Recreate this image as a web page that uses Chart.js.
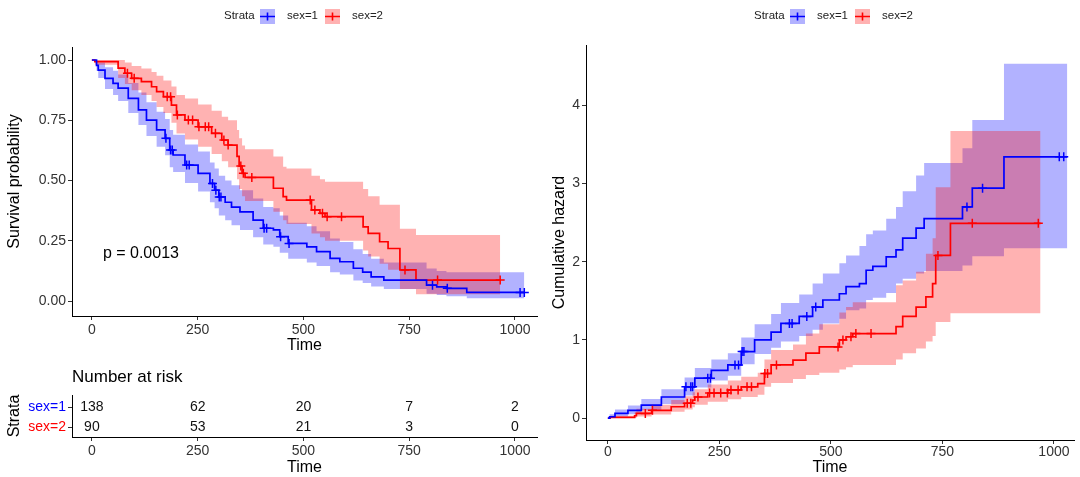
<!DOCTYPE html>
<html>
<head>
<meta charset="utf-8">
<script src="https://cdn.jsdelivr.net/npm/chart.js@4.4.1/dist/chart.umd.min.js"></script>
<style>
  html, body { margin: 0; padding: 0; background: #fff; width: 1080px; height: 477px; overflow: hidden; }
  canvas { position: absolute; }
</style>
</head>
<body>
<canvas id="km" width="545" height="360" style="left:0;top:0"></canvas>
<canvas id="risk" width="545" height="117" style="left:0;top:360px"></canvas>
<canvas id="haz" width="535" height="477" style="left:545px;top:0"></canvas>
<script>
const FONT = "'Liberation Sans', Arial, sans-serif";
const BLUE = '#0000ff', RED = '#ff0000';
const BLUE_FILL = 'rgba(0,0,255,0.3)', RED_FILL = 'rgba(255,0,0,0.3)';

// axis ticks / categories
const timeTicks = [0, 250, 500, 750, 1000];
const survTicks = [0, 0.25, 0.5, 0.75, 1];
const hazTicks = [0, 1, 2, 3, 4];
const strata = ['sex=1', 'sex=2'];

// number at risk
const riskN1 = [138, 62, 20, 7, 2];
const riskN2 = [90, 53, 21, 3, 0];

// survival curve, sex=1
const kmT1 = [0, 11, 15, 31, 50, 62, 86, 110, 129, 153, 173, 184, 192, 220, 251, 279, 290, 300, 315, 330, 350, 381, 405, 429, 444, 464, 508, 531, 563, 586, 618, 640, 660, 690, 791, 815, 838, 886, 1022];
const kmS1 = [1, .978, .958, .924, .903, .883, .841, .793, .751, .710, .675, .627, .606, .564, .53, .488, .46, .432, .41, .39, .37, .336, .302, .295, .267, .239, .225, .205, .177, .163, .136, .12, .10, .087, .066, .059, .053, .036, .036];
const kmU1 = [1, .995, .99, .97, .955, .94, .905, .865, .825, .785, .755, .71, .69, .65, .62, .575, .55, .52, .50, .48, .46, .425, .39, .385, .355, .325, .31, .29, .26, .245, .215, .195, .175, .16, .135, .125, .12, .12, .12];
const kmL1 = [1, .955, .925, .88, .855, .83, .78, .73, .685, .64, .605, .555, .535, .49, .455, .41, .385, .355, .335, .315, .295, .265, .235, .225, .20, .175, .16, .145, .12, .11, .085, .075, .06, .05, .03, .025, .02, .012, .012];
const cenT1 = [175, 186, 190, 224, 230, 285, 293, 301, 305, 407, 413, 446, 466, 805, 840, 1012, 1022];
const cenS1 = [.675, .627, .627, .564, .564, .488, .46, .432, .432, .302, .302, .267, .239, .066, .053, .036, .036];

// survival curve, sex=2
const kmT2 = [0, 7, 62, 78, 94, 117, 141, 153, 169, 188, 200, 220, 251, 283, 307, 322, 343, 348, 355, 362, 429, 452, 460, 519, 539, 551, 641, 653, 680, 700, 728, 766, 965];
const kmS2 = [1, .993, .966, .945, .924, .91, .889, .869, .848, .813, .772, .751, .723, .696, .668, .647, .60, .56, .53, .513, .468, .433, .419, .378, .364, .35, .308, .281, .246, .218, .129, .087, .087];
const kmU2 = [1, 1, 1, .99, .975, .965, .95, .935, .915, .89, .855, .84, .815, .79, .765, .75, .71, .675, .645, .63, .60, .557, .55, .52, .505, .495, .465, .435, .40, .40, .30, .274, .274];
const kmL2 = [1, .98, .925, .90, .875, .855, .83, .805, .78, .74, .695, .67, .64, .61, .58, .555, .505, .465, .435, .415, .37, .335, .32, .28, .265, .25, .21, .185, .155, .13, .05, .028, .028];
const cenT2 = [84, 100, 178, 186, 202, 228, 238, 253, 268, 276, 292, 312, 322, 352, 358, 378, 516, 527, 545, 556, 590, 740, 817, 965];
const cenS2 = [.945, .924, .848, .848, .772, .751, .751, .723, .723, .723, .696, .668, .647, .56, .53, .513, .419, .378, .364, .35, .35, .129, .087, .087];

// cumulative hazard, sex=1
const hzT1 = [0, 4, 16, 45, 75, 120, 172, 195, 232, 269, 299, 329, 366, 388, 429, 459, 482, 519, 534, 564, 579, 594, 624, 646, 661, 691, 709, 795, 817, 888, 1030];
const hzH1 = [0, .017, .06, .10, .166, .27, .40, .51, .61, .68, .85, 1.0, 1.10, 1.21, 1.30, 1.42, 1.51, 1.59, 1.68, 1.72, 1.89, 1.94, 2.06, 2.15, 2.30, 2.43, 2.55, 2.70, 2.94, 3.34, 3.34];
const hzU1 = [0, .05, .11, .16, .245, .37, .52, .64, .75, .83, 1.03, 1.2, 1.33, 1.47, 1.58, 1.72, 1.85, 1.98, 2.08, 2.2, 2.35, 2.4, 2.55, 2.7, 2.9, 3.1, 3.26, 3.45, 3.81, 4.53, 4.53];
const hzL1 = [0, 0, .02, .05, .10, .18, .29, .39, .48, .54, .69, .82, .90, .98, 1.05, 1.13, 1.21, 1.27, 1.38, 1.40, 1.51, 1.54, 1.60, 1.72, 1.78, 1.85, 1.88, 1.95, 2.07, 2.17, 2.17];
const hzCenT1 = [175, 186, 190, 224, 230, 285, 293, 301, 305, 407, 413, 446, 466, 805, 840, 1012, 1022];
const hzCenH1 = [.40, .40, .40, .51, .51, .68, .68, .85, .85, 1.21, 1.21, 1.30, 1.42, 2.70, 2.94, 3.34, 3.34];

// cumulative hazard, sex=2
const hzT2 = [0, 5, 60, 64, 98, 142, 172, 190, 195, 224, 269, 299, 336, 351, 366, 415, 444, 474, 519, 534, 549, 646, 661, 691, 713, 728, 735, 768, 970];
const hzH2 = [0, .01, .03, .06, .10, .145, .19, .23, .27, .32, .36, .40, .44, .57, .68, .74, .83, .91, 1.0, 1.04, 1.08, 1.17, 1.30, 1.42, 1.55, 1.72, 2.08, 2.49, 2.49];
const hzU2 = [0, .03, .075, .12, .17, .23, .28, .33, .37, .43, .48, .53, .58, .75, .87, .94, 1.08, 1.2, 1.35, 1.42, 1.48, 1.70, 1.76, 1.87, 2.1, 2.3, 2.95, 3.67, 3.67];
const hzL2 = [0, 0, 0, .02, .045, .08, .11, .14, .17, .21, .24, .27, .30, .40, .45, .50, .55, .58, .62, .65, .68, .75, .83, .89, .98, 1.05, 1.23, 1.34, 1.34];
const hzCenT2 = [84, 100, 178, 186, 202, 228, 238, 253, 268, 276, 292, 312, 322, 352, 358, 378, 516, 527, 545, 556, 590, 740, 817, 965];
const hzCenH2 = [.06, .10, .19, .19, .27, .32, .32, .32, .32, .36, .36, .40, .40, .57, .57, .68, .91, 1.0, 1.04, 1.08, 1.08, 2.08, 2.49, 2.49];

const pts = (xs, ys) => xs.map((x, i) => ({ x, y: ys[i] }));

function curveSets(t, s, up, lo, cT, cY, color, fill, bandOrder) {
  return [
    { type: 'line', data: pts(t, s), borderColor: color, borderWidth: 1.7, stepped: true, pointRadius: 0, fill: false, order: 2 },
    { type: 'scatter', data: pts(cT, cY), pointStyle: 'cross', pointRadius: 4.5, borderColor: color, backgroundColor: color, borderWidth: 1.5, showLine: false, order: 1 },
    { type: 'line', data: pts(t, up), borderColor: 'rgba(0,0,0,0)', borderWidth: 0, stepped: true, pointRadius: 0, backgroundColor: fill, fill: '+1', order: bandOrder },
    { type: 'line', data: pts(t, lo), borderColor: 'rgba(0,0,0,0)', borderWidth: 0, stepped: true, pointRadius: 0, fill: false, order: bandOrder }
  ];
}

function xAxis(min, max, h, pad, titlePad) {
  return {
    type: 'linear', min, max,
    afterBuildTicks: s => { s.ticks = timeTicks.map(v => ({ value: v })); },
    afterFit: s => { s.height = h; },
    grid: { drawOnChartArea: false, drawTicks: true, tickLength: 4, color: '#333', tickColor: '#333' },
    border: { display: true, color: '#000', width: 1 },
    ticks: { color: '#333', font: { family: FONT, size: 14 }, padding: pad, maxRotation: 0, autoSkip: false, callback: v => String(v) },
    title: { display: true, text: 'Time', color: '#000', font: { family: FONT, size: 16 }, padding: { top: 0, bottom: titlePad } }
  };
}

function yAxis(min, max, w, vals, fmt, title) {
  return {
    type: 'linear', min, max,
    afterBuildTicks: s => { s.ticks = vals.map(v => ({ value: v })); },
    afterFit: s => { s.width = w; },
    grid: { drawOnChartArea: false, drawTicks: true, tickLength: 4, color: '#333', tickColor: '#333' },
    border: { display: true, color: '#000', width: 1 },
    ticks: { color: '#333', font: { family: FONT, size: 14 }, padding: 2, callback: fmt },
    title: { display: true, text: title, color: '#000', font: { family: FONT, size: 16 }, padding: { top: 5, bottom: 0 } }
  };
}

function legendPlugin(x0) {
  return {
    id: 'strataLegend',
    afterDraw(chart) {
      const ctx = chart.ctx;
      ctx.save();
      ctx.font = '11.5px ' + FONT;
      ctx.fillStyle = '#222';
      ctx.textBaseline = 'middle';
      ctx.textAlign = 'left';
      ctx.fillText('Strata', x0, 16);
      const keys = [[x0 + 36, BLUE, BLUE_FILL, strata[0]], [x0 + 101, RED, RED_FILL, strata[1]]];
      keys.forEach(([bx, c, f, lab]) => {
        ctx.fillStyle = f;
        ctx.fillRect(bx, 9, 15, 15);
        ctx.strokeStyle = c;
        ctx.lineWidth = 1.6;
        ctx.beginPath();
        ctx.moveTo(bx, 16.5); ctx.lineTo(bx + 15, 16.5);
        ctx.moveTo(bx + 7.5, 12.5); ctx.lineTo(bx + 7.5, 20.5);
        ctx.stroke();
        ctx.fillStyle = '#222';
        ctx.fillText(lab, bx + 27, 16);
      });
      ctx.restore();
    }
  };
}

const pLabel = 'p = 0.0013';
const pAt = [26, 0.195];

const pvalPlugin = {
  id: 'pval',
  afterDatasetsDraw(chart) {
    const { ctx, scales: { x, y } } = chart;
    ctx.save();
    ctx.font = '16px ' + FONT;
    ctx.fillStyle = '#000';
    ctx.textBaseline = 'middle';
    ctx.fillText(pLabel, x.getPixelForValue(pAt[0]), y.getPixelForValue(pAt[1]));
    ctx.restore();
  }
};

const base = {
  responsive: false, animation: false, events: [],
  plugins: { legend: { display: false }, tooltip: { enabled: false } }
};

// survival plot
new Chart(document.getElementById('km'), {
  type: 'line',
  data: { datasets: [
    ...curveSets(kmT1, kmS1, kmU1, kmL1, cenT1, cenS1, BLUE, BLUE_FILL, 4),
    ...curveSets(kmT2, kmS2, kmU2, kmL2, cenT2, cenS2, RED, RED_FILL, 3)
  ] },
  options: {
    ...base,
    layout: { padding: { top: 47, right: 8, left: 0, bottom: 0 } },
    scales: {
      x: xAxis(-47, 1052, 44, 2, 5),
      y: yAxis(-0.062, 1.054, 72, survTicks, v => v.toFixed(2), 'Survival probability')
    }
  },
  plugins: [pvalPlugin, legendPlugin(224)]
});

// number at risk table
const riskPlugin = {
  id: 'riskTable',
  afterDatasetsDraw(chart) {
    const { ctx, scales: { x, y }, chartArea } = chart;
    ctx.save();
    ctx.font = '17px ' + FONT;
    ctx.fillStyle = '#000';
    ctx.textBaseline = 'middle';
    ctx.textAlign = 'left';
    ctx.fillText('Number at risk', chartArea.left, 17);
    ctx.font = '14px ' + FONT;
    ctx.fillStyle = '#111';
    ctx.textAlign = 'center';
    [riskN1, riskN2].forEach((row, r) => {
      row.forEach((n, i) => {
        ctx.fillText(String(n), x.getPixelForValue(timeTicks[i]), y.getPixelForValue(r + 1));
      });
    });
    ctx.restore();
  }
};

const riskY = yAxis(0.4, 2.5, 72, [1, 2], v => strata[v - 1], 'Strata');
riskY.reverse = true;
riskY.ticks.color = c => (c.index === 0 ? BLUE : RED);

new Chart(document.getElementById('risk'), {
  type: 'scatter',
  data: { datasets: [{ data: [] }] },
  options: {
    ...base,
    layout: { padding: { top: 35, right: 8, left: 0, bottom: 0 } },
    scales: { x: xAxis(-47, 1052, 40, 2, 0), y: riskY }
  },
  plugins: [riskPlugin]
});

// cumulative hazard plot
new Chart(document.getElementById('haz'), {
  type: 'line',
  data: { datasets: [
    ...curveSets(hzT1, hzH1, hzU1, hzL1, hzCenT1, hzCenH1, BLUE, BLUE_FILL, 4),
    ...curveSets(hzT2, hzH2, hzU2, hzL2, hzCenT2, hzCenH2, RED, RED_FILL, 3)
  ] },
  options: {
    ...base,
    layout: { padding: { top: 45, right: 5, left: 0, bottom: 0 } },
    scales: {
      x: xAxis(-49, 1045, 37, 0, 0),
      y: yAxis(-0.28, 4.77, 41, hazTicks, v => String(v), 'Cumulative hazard')
    }
  },
  plugins: [legendPlugin(209)]
});
</script>
</body>
</html>
